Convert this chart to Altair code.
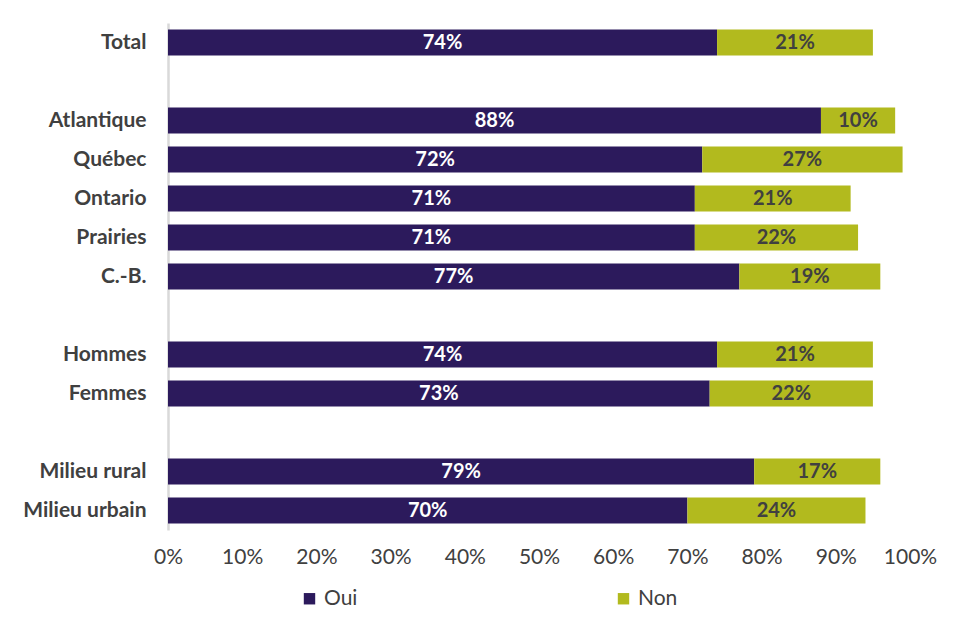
import altair as alt
import pandas as pd

categories = ["Total", "Atlantique", "Québec", "Ontario", "Prairies", "C.-B.",
              "Hommes", "Femmes", "Milieu rural", "Milieu urbain"]
oui = [74, 88, 72, 71, 71, 77, 74, 73, 79, 70]
non = [21, 10, 27, 21, 22, 19, 21, 22, 17, 24]
row_order = ["Total", "_b1", "Atlantique", "Québec", "Ontario", "Prairies", "C.-B.",
             "_b2", "Hommes", "Femmes", "_b3", "Milieu rural", "Milieu urbain"]
series = ["Oui", "Non"]
colors = ["#2C1A5C", "#B2BA1E"]
text_colors = ["#FFFFFF", "#404040"]

rows = []
for c, o, n in zip(categories, oui, non):
    rows.append({"cat": c, "serie": "Oui", "ord": 0, "value": o / 100})
    rows.append({"cat": c, "serie": "Non", "ord": 1, "value": n / 100})
df = pd.DataFrame(rows)

FONT = "Lato"

base = alt.Chart(df).transform_stack(
    stack="value", groupby=["cat"], as_=["v0", "v1"],
    sort=[alt.SortField("ord", order="ascending")]
).transform_calculate(mid="(datum.v0 + datum.v1) / 2")

y = alt.Y("cat:N", scale=alt.Scale(domain=row_order, paddingInner=1/3, paddingOuter=1/6),
          axis=alt.Axis(title=None, ticks=False, labelPadding=22,
                        labelExpr="indexof(datum.label, '_b') == 0 ? '' : datum.label",
                        labelFont=FONT, labelFontSize=21, labelFontWeight="bold",
                        labelColor="#404040", domainColor="#D9D9D9", domainWidth=2.5,
                        minExtent=155, maxExtent=155))

bars = base.mark_bar().encode(
    y=y,
    x=alt.X("v0:Q", scale=alt.Scale(domain=[0, 1], nice=False),
            axis=alt.Axis(title=None, format=".0%", values=[i / 10 for i in range(11)],
                          grid=False, domain=False, ticks=False, labelPadding=16,
                          labelFlush=False,
                          labelFont=FONT, labelFontSize=21, labelFontWeight="normal",
                          labelColor="#404040")),
    x2="v1:Q",
    color=alt.Color("serie:N", scale=alt.Scale(domain=series, range=colors),
                    legend=alt.Legend(title=None, orient="none", direction="horizontal",
                                      legendX=131, legendY=565, symbolType="square",
                                      symbolSize=130, symbolStrokeWidth=0,
                                      symbolOpacity=1, labelFont=FONT, labelFontSize=21,
                                      labelColor="#404040", columnPadding=255,
                                      labelOffset=4)),
)

labels = base.mark_text(font=FONT, fontSize=20, fontWeight="bold").encode(
    y=alt.Y("cat:N", scale=alt.Scale(domain=row_order)),
    x=alt.X("mid:Q"),
    text=alt.Text("value:Q", format=".0%"),
    color=alt.Color("serie:N", scale=alt.Scale(domain=series, range=text_colors), legend=None),
)

chart = alt.layer(bars, labels).resolve_scale(color="independent").properties(
    width=742, height=507, background="white",
    padding={"left": 5, "top": 15, "right": 5, "bottom": 5},
).configure_view(stroke="transparent", strokeWidth=0)

chart.save("out.html", embed_options={"renderer": "svg", "actions": False})
